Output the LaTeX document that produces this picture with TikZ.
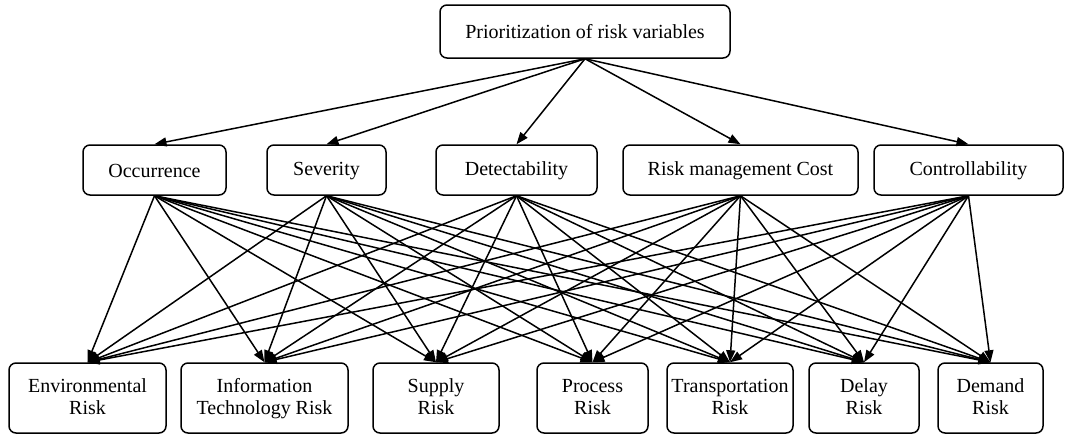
\documentclass[tikz,border=0pt]{standalone}
\usepackage{fontspec}
\setmainfont{Liberation Serif}
\usetikzlibrary{arrows.meta}
\newcommand{\mystrut}{\rule[-1.5pt]{0pt}{17.5pt}}
\newcommand{\mystrutb}{\rule[-4.5pt]{0pt}{14pt}}
\begin{document}
\begin{tikzpicture}[x=1pt,y=-1pt,
  box/.style={draw,line width=1.5pt,rounded corners=7pt,inner sep=0pt,align=center,font=\fontsize{20pt}{22pt}\selectfont},
  edge/.style={line width=1.5pt,-{Triangle[length=12pt,width=9pt]}}]
\useasboundingbox (0,0) rectangle (1083,434);
\node[box,minimum width=290pt,minimum height=53pt] (top) at (585,31.5) {\mystrut Prioritization of risk variables};
\node[box,minimum width=143pt,minimum height=50pt] (m1) at (154.5,170) {\mystrut Occurrence};
\node[box,minimum width=119pt,minimum height=50pt] (m2) at (326.5,170) {\mystrut Severity};
\node[box,minimum width=161pt,minimum height=50pt] (m3) at (516.5,170) {\mystrut Detectability};
\node[box,minimum width=235pt,minimum height=50pt] (m4) at (740.5,170) {\mystrut Risk management Cost};
\node[box,minimum width=189pt,minimum height=50pt] (m5) at (968.5,170) {\mystrut Controllability};
\node[box,minimum width=157pt,minimum height=70pt] (b1) at (87.5,398) {\mystrut Environmental\\\mystrutb Risk};
\node[box,minimum width=167pt,minimum height=70pt] (b2) at (264.5,398) {\mystrut Information\\\mystrutb Technology Risk};
\node[box,minimum width=126pt,minimum height=70pt] (b3) at (436,398) {\mystrut Supply\\\mystrutb Risk};
\node[box,minimum width=111pt,minimum height=70pt] (b4) at (592.5,398) {\mystrut Process\\\mystrutb Risk};
\node[box,minimum width=126pt,minimum height=70pt] (b5) at (730,398) {\mystrut Transportation\\\mystrutb Risk};
\node[box,minimum width=110pt,minimum height=70pt] (b6) at (864,398) {\mystrut Delay\\\mystrutb Risk};
\node[box,minimum width=105pt,minimum height=70pt] (b7) at (990.5,398) {\mystrut Demand\\\mystrutb Risk};
\foreach \m in {1,...,5} {\draw[edge] (top.south) -- (m\m.north);}
\foreach \m in {1,...,5} {\foreach \b in {1,...,7} {\draw[edge] (m\m.south) -- (b\b.north);}}
\end{tikzpicture}
\end{document}
